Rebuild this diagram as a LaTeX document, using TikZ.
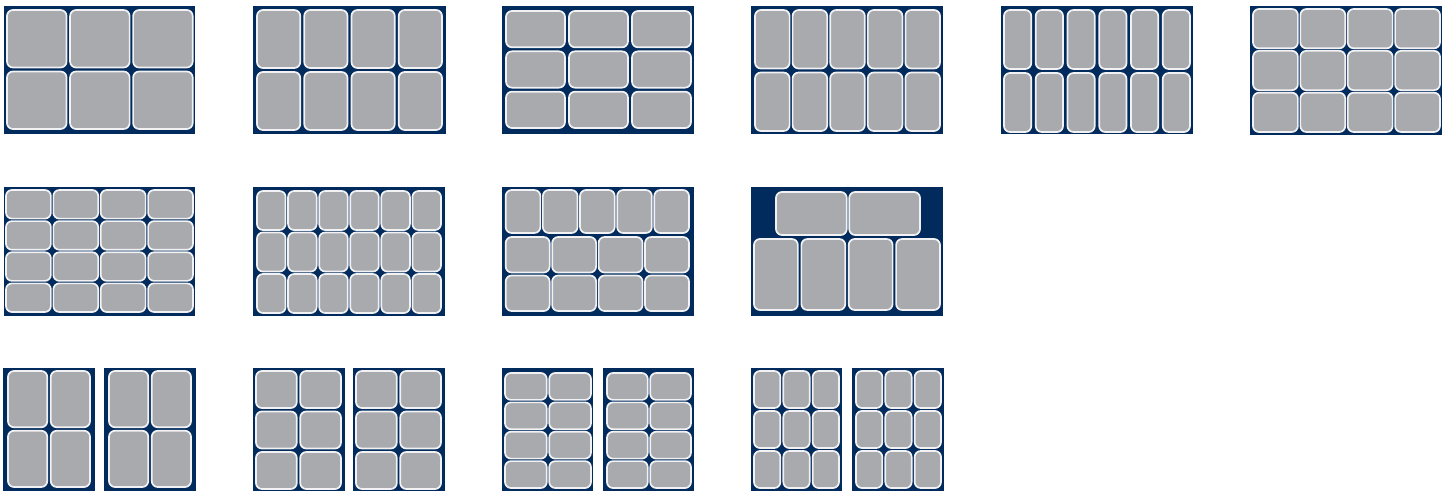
\documentclass[tikz,border=0pt]{standalone}
\definecolor{navy}{RGB}{0,43,92}
\definecolor{cellgray}{RGB}{169,170,174}
\definecolor{cellline}{RGB}{242,242,244}
\tikzset{
  panelbox/.style={fill=navy, draw=none},
  cellbox/.style={fill=cellgray, draw=cellline, line width=1.7pt, rounded corners=6pt},
}
% \cellgrid{x0}{x1}{y0}{y1}{cols}{rows}{gapx}{gapy}
\newcommand\cellgrid[8]{%
  \pgfmathsetmacro\cgW{(#2-#1-(#5-1)*#7)/#5}%
  \pgfmathsetmacro\cgH{(#4-#3-(#6-1)*#8)/#6}%
  \foreach \ci in {1,...,#5}{%
    \foreach \cj in {1,...,#6}{%
      \pgfmathsetmacro\cgX{#1+(\ci-1)*(\cgW+#7)}%
      \pgfmathsetmacro\cgY{#3+(\cj-1)*(\cgH+#8)}%
      \draw[cellbox] (\cgX,\cgY) rectangle ++(\cgW,\cgH);
    }%
  }%
}
\newcommand\panelrect[4]{\fill[panelbox] (#1,#3) rectangle (#2,#4);}
\begin{document}
\begin{tikzpicture}[x=1pt,y=-1pt]
\useasboundingbox (0,0) rectangle (1452,491);
% ---- Row 1 ----
\panelrect{4}{195}{6}{134}\cellgrid{7}{192.7}{10}{129}{3}{2}{3.5}{4}
\panelrect{253}{446}{6}{134}\cellgrid{257}{442}{10}{130}{4}{2}{4}{4}
\panelrect{502}{694}{6}{134}\cellgrid{506}{691}{11}{128}{3}{3}{4}{4}
\panelrect{751}{943}{6}{134}\cellgrid{755}{940}{10}{131}{5}{2}{3}{4}
\panelrect{1001}{1193}{6}{134}\cellgrid{1004}{1190}{10}{132}{6}{2}{4.5}{4}
\panelrect{1250}{1442}{6}{135}\cellgrid{1253}{1440}{9}{132}{4}{3}{2.5}{2.5}
% ---- Row 2 ----
\panelrect{4}{195}{187}{316}\cellgrid{6}{193}{190}{312}{4}{4}{2.5}{2.5}
\panelrect{253}{445}{187}{316}\cellgrid{257}{441}{191}{313}{6}{3}{2.5}{2.5}
\panelrect{502}{694}{187}{316}
\cellgrid{505.7}{689}{190}{233}{5}{1}{2.5}{3}
\cellgrid{505.7}{689}{237}{311}{4}{2}{2.5}{3}
\panelrect{751}{943}{187}{316}
\cellgrid{776}{920}{192}{235}{2}{1}{2.5}{3}
\cellgrid{754}{940}{239}{310}{4}{1}{3.5}{3}
% ---- Row 3 ----
\panelrect{3}{95}{368}{490.5}\cellgrid{8}{90}{371}{487}{2}{2}{3.5}{3.5}
\panelrect{104}{196}{368}{490.5}\cellgrid{109}{191}{371}{487}{2}{2}{3.5}{3.5}
\panelrect{253}{345}{368}{490.5}\cellgrid{256}{341}{371}{489}{2}{3}{3.5}{3.5}
\panelrect{353}{445}{368}{490.5}\cellgrid{356}{441}{371}{489}{2}{3}{3.5}{3.5}
\panelrect{502}{593}{368}{490.5}\cellgrid{505}{591}{373}{488}{2}{4}{2.5}{2.5}
\panelrect{603}{694}{368}{490.5}\cellgrid{607}{691}{373}{488}{2}{4}{2.5}{2.5}
\panelrect{751}{842}{368}{490.5}\cellgrid{754}{839}{371}{488}{3}{3}{3}{3}
\panelrect{852}{944}{368}{490.5}\cellgrid{856}{941}{371}{488}{3}{3}{3}{3}
\end{tikzpicture}
\end{document}
